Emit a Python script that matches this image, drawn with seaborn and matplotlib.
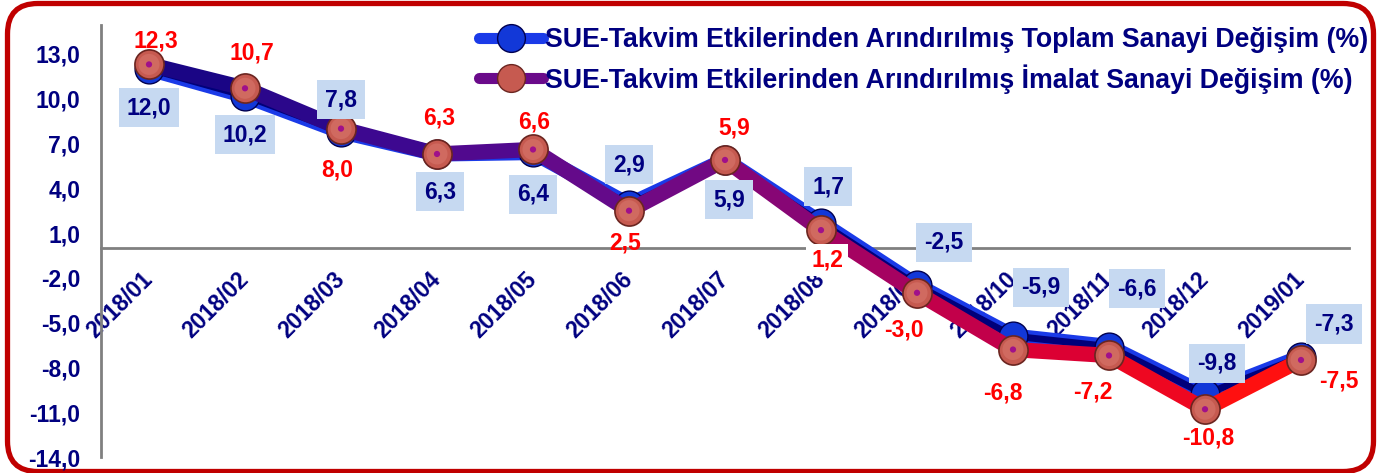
import numpy as np
import pandas as pd
import seaborn as sns
import matplotlib.pyplot as plt
from matplotlib.lines import Line2D
from matplotlib.patches import FancyBboxPatch
from matplotlib.colors import LinearSegmentedColormap

### Data =================================================================
months = ["2018/01", "2018/02", "2018/03", "2018/04", "2018/05", "2018/06", "2018/07",
          "2018/08", "2018/09", "2018/10", "2018/11", "2018/12", "2019/01"]
toplam = [12.0, 10.2, 7.8, 6.3, 6.4, 2.9, 5.9, 1.7, -2.5, -5.9, -6.6, -9.8, -7.3]
imalat = [12.3, 10.7, 8.0, 6.3, 6.6, 2.5, 5.9, 1.2, -3.0, -6.8, -7.2, -10.8, -7.5]
y_ticks = [-14, -11, -8, -5, -2, 1, 4, 7, 10, 13]
series_names = ["SUE-Takvim Etkilerinden Arındırılmış Toplam Sanayi Değişim (%)",
                "SUE-Takvim Etkilerinden Arındırılmış İmalat Sanayi Değişim (%)"]

# label offsets in pixels (dx, dy up) - styling only
toplam_off = [(0, -39), (0, -39), (0, 32), (3, -38), (0, -42), (0, 40), (4, -40),
              (7, 36), (27, 43), (28, 49), (28, 58), (12, 31), (33, 33)]
imalat_off = [(7, 23), (7, 35), (-4, -41), (2, 36), (1, 27), (-4, -32), (9, 32),
              (6, -30), (-13, -37), (-10, -43), (-16, -37), (3, -29), (38, -21)]

NAVY = "#000080"
RED = "#ff0000"


def fmt(v):
    return f"{v:.1f}".replace(".", ",")


df = pd.DataFrame({"pos": np.arange(len(months)), "toplam": toplam, "imalat": imalat})

### Figure ===============================================================
sns.set_style("white")
plt.rcParams["font.family"] = ["Liberation Sans", "DejaVu Sans"]
plt.rcParams["font.weight"] = "bold"

W, H = 1379, 473
fig = plt.figure(figsize=(W / 100, H / 100), dpi=100)
ax = fig.add_axes([101 / W, 16 / H, 1248 / W, 432 / H])
ax.set_facecolor("none")

# rounded red frame
frame = FancyBboxPatch((7.5 / W, 1.5 / H), 1366 / W, 468 / H,
                       boxstyle="round,pad=0,rounding_size=0.022",
                       transform=fig.transFigure, facecolor="white",
                       edgecolor="#c00000", linewidth=3.8, zorder=-10,
                       mutation_aspect=W / H)
fig.patches.append(frame)

# Toplam line (blue with navy core)
sns.lineplot(data=df, x="pos", y="toplam", ax=ax, color="#1a3ae8", linewidth=11,
             solid_capstyle="round", solid_joinstyle="round", zorder=2)
sns.lineplot(data=df, x="pos", y="toplam", ax=ax, color="#00007a", linewidth=5,
             solid_capstyle="round", solid_joinstyle="round", zorder=2)
sns.scatterplot(data=df, x="pos", y="toplam", ax=ax, s=430, color="#1238d8",
                edgecolor="#000050", linewidth=1, zorder=3)

# Imalat line with purple -> red gradient
cmap = LinearSegmentedColormap.from_list(
    "imalat", ["#1a0585", "#3a0890", "#5f0a8c", "#78087f", "#b0005a", "#e00030", "#ff1010"])
for i in range(len(months) - 1):
    seg = df.iloc[i:i + 2]
    sns.lineplot(data=seg, x="pos", y="imalat", ax=ax, color=cmap(i / (len(months) - 2)),
                 linewidth=11, solid_capstyle="round", solid_joinstyle="round", zorder=4)
sns.scatterplot(data=df, x="pos", y="imalat", ax=ax, s=440, color="#c65a50",
                edgecolor="#6b2520", linewidth=1.2, zorder=5)
sns.scatterplot(data=df, x="pos", y="imalat", ax=ax, s=230, color="#d06a60",
                edgecolor="none", linewidth=0, zorder=5)
sns.scatterplot(data=df, x="pos", y="imalat", ax=ax, s=20, color="#a0108a",
                edgecolor="none", linewidth=0, zorder=6)

# data labels
for i in range(len(months)):
    dx, dy = toplam_off[i]
    ax.annotate(fmt(toplam[i]), (i, toplam[i]), xytext=(dx * 0.72, dy * 0.72),
                textcoords="offset points", ha="center", va="center",
                fontsize=16.5, fontweight="bold", color=NAVY, zorder=7,
                bbox=dict(boxstyle="square,pad=0.35", facecolor="#c6d9f1", edgecolor="none"))
    dx, dy = imalat_off[i]
    box = dict(boxstyle="square,pad=0.2", facecolor="white", edgecolor="none") if i == 7 else None
    ax.annotate(fmt(imalat[i]), (i, imalat[i]), xytext=(dx * 0.72, dy * 0.72),
                textcoords="offset points", ha="center", va="center",
                fontsize=16.5, fontweight="bold", color=RED, zorder=7, bbox=box)

### Axes styling =========================================================
ax.spines["bottom"].set_position(("data", 0))
for side in ["top", "right"]:
    ax.spines[side].set_visible(False)
for side in ["left", "bottom"]:
    ax.spines[side].set_color("#808080")
    ax.spines[side].set_linewidth(2)
    ax.spines[side].set_zorder(1)

ax.set_xlim(-0.5, len(months) - 0.5)
ax.set_ylim(-14, 14.94)
ax.set_xlabel("")
ax.set_ylabel("")

ax.set_yticks(y_ticks)
ax.set_yticklabels([fmt(v) for v in y_ticks], fontsize=16.5, fontweight="bold", color=NAVY)
ax.tick_params(axis="y", length=6, width=1.5, color="#808080", pad=9)

ax.set_xticks(np.arange(-0.5, len(months), 1.0))
ax.set_xticklabels([])
ax.set_xticks(np.arange(len(months)), minor=True)
ax.set_xticklabels(months, minor=True, rotation=45, ha="right", va="center",
                   rotation_mode="anchor", fontsize=16.5, fontweight="bold", color=NAVY)
ax.tick_params(axis="x", which="major", length=6, width=1.5, color="#808080", direction="out")
ax.tick_params(axis="x", which="minor", length=0, pad=20)

### Legend ===============================================================
handles = [
    Line2D([0], [0], color="#1a3ae8", linewidth=8, marker="o", markersize=20,
           markerfacecolor="#1238d8", markeredgecolor="#000050"),
    Line2D([0], [0], color="#6a0a8a", linewidth=8, marker="o", markersize=20,
           markerfacecolor="#c65a50", markeredgecolor="#6b2520"),
]
leg = fig.legend(handles, series_names, loc="upper right", bbox_to_anchor=(0.992, 0.943),
                 frameon=False, fontsize=19.3, handlelength=2.4, handletextpad=0.05,
                 labelspacing=0.42, borderpad=0, borderaxespad=0)
for t in leg.get_texts():
    t.set_color(NAVY)
    t.set_fontweight("bold")

fig.savefig("out.png", dpi=100)
